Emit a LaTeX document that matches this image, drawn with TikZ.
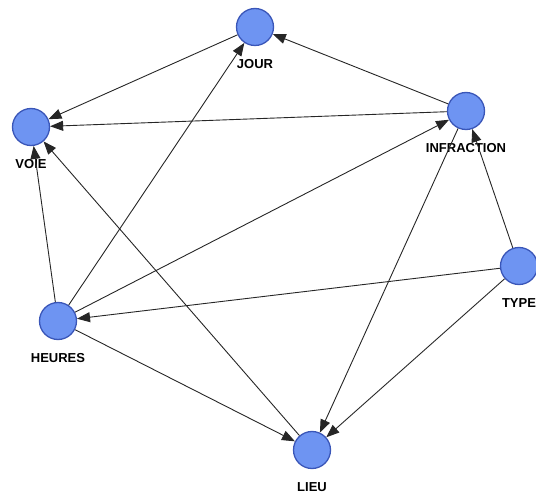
\documentclass[tikz,border=0pt]{standalone}
\usepackage{fontspec}
\setmainfont{Liberation Sans}
\usetikzlibrary{arrows.meta}
\definecolor{bleunoeud}{HTML}{6E94F2}
\definecolor{bordnoeud}{HTML}{3A56B8}

\begin{document}
\begin{tikzpicture}[x=1pt,y=-1pt]
			\useasboundingbox (0,0) rectangle (536,497);
			\tikzset{sommet/.style={draw=bordnoeud,line width=1.3pt,shape=circle,fill=bleunoeud, inner sep=0pt, minimum size=37pt, label={[font=\bfseries\fontsize{13}{15}\selectfont, label distance=10pt]below:#1}},
				arc/.style={-{Triangle[length=13pt,width=10pt]}, line width=0.9pt, draw=black!85}}
			\foreach\n/\x/\y in {JOUR/255/27,VOIE/31/127,INFRACTION/466/111,TYPE/519/266,HEURES/58/321,LIEU/312/450}{
				\node[sommet=\n] (\n) at (\x,\y){};
			}
			\foreach\a/\b in {JOUR/VOIE,INFRACTION/JOUR,INFRACTION/VOIE,HEURES/JOUR,HEURES/INFRACTION,HEURES/VOIE,LIEU/VOIE,HEURES/LIEU,INFRACTION/LIEU,TYPE/INFRACTION,TYPE/HEURES,TYPE/LIEU}{
				\draw[arc] (\a) -- (\b);
			}
		\end{tikzpicture}
\end{document}
